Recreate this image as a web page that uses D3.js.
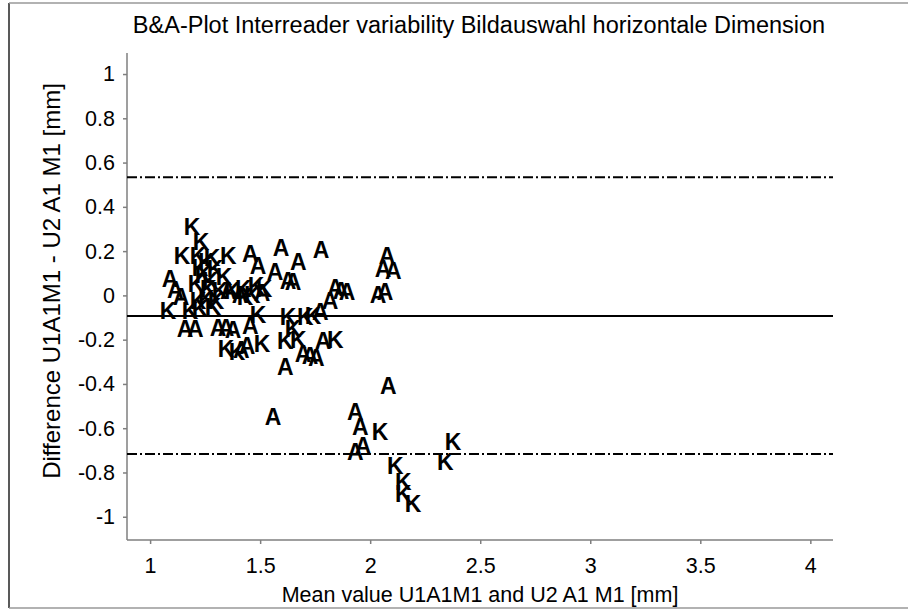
<!DOCTYPE html>
<html>
<head>
<meta charset="utf-8">
<script src="https://cdn.jsdelivr.net/npm/d3@7"></script>
<style>
  html, body { margin: 0; padding: 0; background: #fff; }
  svg { display: block; }
  text { font-family: "Liberation Sans", Arial, sans-serif; }
</style>
</head>
<body>
<svg id="chart" width="908" height="611"></svg>
<script>
// ---- data ----
const titleText = "B&A-Plot Interreader variability Bildauswahl horizontale Dimension";
const xLabel = "Mean value U1A1M1 and U2 A1 M1 [mm]";
const yLabel = "Difference U1A1M1 - U2 A1 M1 [mm]";
const xTicks = [1, 1.5, 2, 2.5, 3, 3.5, 4];
const yTicks = [1, 0.8, 0.6, 0.4, 0.2, 0, -0.2, -0.4, -0.6, -0.8, -1];
const xDomain = [0.895, 4.103];
const yDomain = [-1.105, 1.095];
const meanDiff = [-0.093];
const limits = [0.534, -0.716];

// points labelled "K"
const kX = [1.191, 1.232, 1.145, 1.218, 1.282, 1.355, 1.255, 1.227, 1.295, 1.241, 1.273, 1.336, 1.209, 1.264, 1.318, 1.373, 1.423, 1.482, 1.518, 1.464, 1.218, 1.255, 1.300, 1.432, 1.082, 1.182, 1.227, 1.286, 1.491, 1.627, 1.705, 1.741, 1.650, 1.345, 1.395, 1.509, 1.614, 1.673, 1.841, 2.045, 2.377, 2.341, 2.114, 2.150, 2.150, 2.195];
const kY = [0.311, 0.239, 0.180, 0.180, 0.171, 0.180, 0.149, 0.126, 0.117, 0.090, 0.063, 0.081, 0.050, 0.027, 0.018, 0.018, 0.027, 0.041, 0.027, 0.000, -0.027, -0.018, -0.027, -0.009, -0.072, -0.072, -0.063, -0.054, -0.090, -0.099, -0.099, -0.095, -0.153, -0.243, -0.257, -0.221, -0.207, -0.203, -0.203, -0.617, -0.662, -0.752, -0.770, -0.842, -0.896, -0.941];

// points labelled "A"
const aX = [1.091, 1.114, 1.141, 1.159, 1.205, 1.309, 1.345, 1.377, 1.455, 1.414, 1.441, 1.455, 1.491, 1.568, 1.595, 1.673, 1.777, 1.627, 1.650, 1.841, 1.868, 1.895, 1.818, 1.773, 1.786, 1.695, 1.727, 1.755, 1.614, 2.077, 2.059, 2.105, 2.036, 2.068, 1.559, 2.082, 1.932, 1.955, 1.968, 1.932, 1.355, 1.409, 1.509];
const aY = [0.072, 0.023, -0.005, -0.153, -0.153, -0.149, -0.149, -0.158, -0.140, -0.248, -0.230, 0.185, 0.135, 0.104, 0.212, 0.153, 0.207, 0.063, 0.059, 0.032, 0.018, 0.014, -0.027, -0.077, -0.207, -0.266, -0.275, -0.284, -0.324, 0.176, 0.117, 0.108, 0.000, 0.014, -0.550, -0.410, -0.527, -0.595, -0.680, -0.707, 0.018, 0.000, 0.009];

// ---- drawing ----
(function () {
const svg = d3.select("#chart");
const W = 908;
const mL = 127, mR = 833, mT = 53, mB = 540;
const axisColor = "#7f7f7f";

// figure border
svg.append("line").attr("x1", 9).attr("x2", 9).attr("y1", 3).attr("y2", 608)
  .attr("stroke", "#222").attr("stroke-width", 1.5);
svg.append("line").attr("x1", 9).attr("x2", W).attr("y1", 3).attr("y2", 3)
  .attr("stroke", "#999").attr("stroke-width", 1.5);
svg.append("line").attr("x1", 9).attr("x2", W).attr("y1", 608).attr("y2", 608)
  .attr("stroke", "#999").attr("stroke-width", 1.5);

const x = d3.scaleLinear().domain(xDomain).range([mL, mR]);
const y = d3.scaleLinear().domain(yDomain).range([mB, mT]);

// axes
const xAxis = d3.axisBottom(x).tickValues(xTicks).tickSize(4).tickPadding(14)
  .tickFormat(d3.format("~g"));
const yAxis = d3.axisLeft(y).tickValues(yTicks).tickSize(4).tickPadding(8)
  .tickFormat(d => d3.format("~g")(d).replace("\u2212", "-"));

const gx = svg.append("g").attr("transform", `translate(0,${mB})`).call(xAxis);
const gy = svg.append("g").attr("transform", `translate(${mL},0)`).call(yAxis);
[gx, gy].forEach(g => {
  g.select(".domain").attr("stroke", axisColor).attr("stroke-width", 1.5);
  g.selectAll(".tick line").attr("stroke", axisColor).attr("stroke-width", 1.5);
  g.selectAll(".tick text").attr("fill", "#000").attr("font-size", 21.5)
    .attr("font-family", "'Liberation Sans', Arial, sans-serif");
});
gx.select(".domain").attr("d", `M${mL},0H${mR}`);
gy.select(".domain").attr("d", `M0,${mT}V${mB}`);

// reference lines
svg.selectAll(".meanline").data(meanDiff).enter().append("line")
  .attr("x1", mL).attr("x2", mR)
  .attr("y1", d => y(d)).attr("y2", d => y(d))
  .attr("stroke", "#000").attr("stroke-width", 2);
svg.selectAll(".limline").data(limits).enter().append("line")
  .attr("x1", mL).attr("x2", mR)
  .attr("y1", d => y(d)).attr("y2", d => y(d))
  .attr("stroke", "#000").attr("stroke-width", 2)
  .attr("stroke-dasharray", "10,3,2,3");

// letter markers
const kPts = kX.map((v, i) => ({x: v, y: kY[i], t: "K"}));
const aPts = aX.map((v, i) => ({x: v, y: aY[i], t: "A"}));
svg.append("g").selectAll("text").data(kPts.concat(aPts)).enter().append("text")
  .attr("x", d => x(d.x)).attr("y", d => y(d.y))
  .attr("text-anchor", "middle").attr("dominant-baseline", "central")
  .attr("font-size", 23).attr("font-weight", "bold").attr("fill", "#000")
  .text(d => d.t);

// labels
svg.append("text").attr("x", 479).attr("y", 33)
  .attr("text-anchor", "middle").attr("font-size", 23.5).attr("fill", "#000")
  .text(titleText);
svg.append("text").attr("x", (mL + mR) / 2).attr("y", 602)
  .attr("text-anchor", "middle").attr("font-size", 21.5).attr("fill", "#000")
  .text(xLabel);
svg.append("text")
  .attr("transform", "translate(60,281) rotate(-90)")
  .attr("text-anchor", "middle").attr("font-size", 24).attr("fill", "#000")
  .text(yLabel);
})();
</script>
</body>
</html>
